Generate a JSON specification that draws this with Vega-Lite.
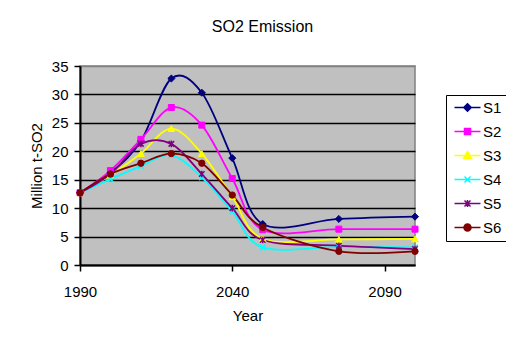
{
  "$schema": "https://vega.github.io/schema/vega-lite/v6.json",
  "width": 335,
  "height": 199,
  "autosize": {"type": "none"},
  "padding": {"left": 80, "top": 66, "right": 91, "bottom": 78},
  "background": "white",
  "title": {"text": "SO2 Emission", "fontSize": 16, "fontWeight": "normal", "font": "Liberation Sans", "color": "black", "anchor": "middle", "dx": 15, "offset": 24},
  "config": {
    "view": {"fill": "#C0C0C0", "stroke": "#808080", "strokeWidth": 1.5},
    "axis": {"labelFont": "Liberation Sans", "labelFontSize": 15, "labelColor": "black", "titleFont": "Liberation Sans", "titleFontSize": 15, "titleFontWeight": "normal", "titleColor": "black", "domainColor": "black", "domainWidth": 2, "tickColor": "black", "tickWidth": 1.5, "tickSize": 6},
    "legend": {"labelFont": "Liberation Sans", "labelFontSize": 15, "labelColor": "black"}
  },
  "data": {"values": [
    {"year": 1990, "series": "S1", "value": 12.7},
    {"year": 2000, "series": "S1", "value": 16.2},
    {"year": 2010, "series": "S1", "value": 21.8},
    {"year": 2020, "series": "S1", "value": 32.8},
    {"year": 2030, "series": "S1", "value": 30.3},
    {"year": 2040, "series": "S1", "value": 18.8},
    {"year": 2050, "series": "S1", "value": 7.2},
    {"year": 2075, "series": "S1", "value": 8.1},
    {"year": 2100, "series": "S1", "value": 8.5},
    {"year": 1990, "series": "S2", "value": 12.7},
    {"year": 2000, "series": "S2", "value": 16.6},
    {"year": 2010, "series": "S2", "value": 22.1},
    {"year": 2020, "series": "S2", "value": 27.7},
    {"year": 2030, "series": "S2", "value": 24.6},
    {"year": 2040, "series": "S2", "value": 15.2},
    {"year": 2050, "series": "S2", "value": 6.2},
    {"year": 2075, "series": "S2", "value": 6.3},
    {"year": 2100, "series": "S2", "value": 6.3},
    {"year": 1990, "series": "S3", "value": 12.7},
    {"year": 2000, "series": "S3", "value": 15.8},
    {"year": 2010, "series": "S3", "value": 19.6},
    {"year": 2020, "series": "S3", "value": 24.0},
    {"year": 2030, "series": "S3", "value": 19.6},
    {"year": 2040, "series": "S3", "value": 12.0},
    {"year": 2050, "series": "S3", "value": 4.6},
    {"year": 2075, "series": "S3", "value": 4.5},
    {"year": 2100, "series": "S3", "value": 4.6},
    {"year": 1990, "series": "S4", "value": 12.7},
    {"year": 2000, "series": "S4", "value": 15.1},
    {"year": 2010, "series": "S4", "value": 17.4},
    {"year": 2020, "series": "S4", "value": 19.3},
    {"year": 2030, "series": "S4", "value": 15.4},
    {"year": 2040, "series": "S4", "value": 9.4},
    {"year": 2050, "series": "S4", "value": 3.1},
    {"year": 2075, "series": "S4", "value": 3.2},
    {"year": 2100, "series": "S4", "value": 3.1},
    {"year": 1990, "series": "S5", "value": 12.7},
    {"year": 2000, "series": "S5", "value": 16.0},
    {"year": 2010, "series": "S5", "value": 21.3},
    {"year": 2020, "series": "S5", "value": 21.3},
    {"year": 2030, "series": "S5", "value": 16.0},
    {"year": 2040, "series": "S5", "value": 10.0},
    {"year": 2050, "series": "S5", "value": 4.4},
    {"year": 2075, "series": "S5", "value": 3.4},
    {"year": 2100, "series": "S5", "value": 2.8},
    {"year": 1990, "series": "S6", "value": 12.7},
    {"year": 2000, "series": "S6", "value": 16.0},
    {"year": 2010, "series": "S6", "value": 17.9},
    {"year": 2020, "series": "S6", "value": 19.6},
    {"year": 2030, "series": "S6", "value": 17.9},
    {"year": 2040, "series": "S6", "value": 12.3},
    {"year": 2050, "series": "S6", "value": 6.6},
    {"year": 2075, "series": "S6", "value": 2.4},
    {"year": 2100, "series": "S6", "value": 2.4}
  ]},
  "encoding": {
    "x": {"field": "year", "type": "quantitative", "scale": {"domain": [1990, 2100], "nice": false, "zero": false},
      "axis": {"title": "Year", "values": [1990, 2040, 2090], "format": "d", "grid": false, "labelFlush": false, "labelPadding": 13, "titlePadding": 9}},
    "y": {"field": "value", "type": "quantitative", "scale": {"domain": [0, 35], "nice": false},
      "axis": {"title": "Million t-SO2", "values": [0, 5, 10, 15, 20, 25, 30, 35], "grid": true, "gridColor": {"condition": {"test": "datum.value === 35", "value": "#808080"}, "value": "black"}, "gridWidth": 1.5, "gridOpacity": 1, "labelPadding": 6, "titlePadding": 7}},
    "color": {"field": "series", "type": "nominal", "scale": {"domain": ["S1", "S2", "S3", "S4", "S5", "S6"], "range": ["#000080", "#FF00FF", "#FFFF00", "#00FFFF", "#800080", "#800000"]},
      "legend": {"title": null, "orient": "none", "legendX": 366, "legendY": 29, "strokeColor": "black", "padding": 5, "rowPadding": 8, "symbolSize": 100, "labelOffset": 17,
        "encode": {"symbols": {"update": {
          "shape": {"signal": "datum.value === 'S1' ? 'M-0.8,0H4.4M1.8,-0.75L2.55,0L1.8,0.75L1.05,0Z' : datum.value === 'S2' ? 'M-0.8,0H4.4M1.2,-0.6H2.4V0.6H1.2Z' : datum.value === 'S3' ? 'M-0.8,0H4.4M1.8,-0.8L2.6,0.6H1Z' : datum.value === 'S4' ? 'M-0.8,0H4.4M1.2,-0.6L2.4,0.6M1.2,0.6L2.4,-0.6' : datum.value === 'S5' ? 'M-0.8,0H4.4M1.2,-0.6L2.4,0.6M1.2,0.6L2.4,-0.6M1.8,-0.7V0.7' : 'M-0.8,0H4.4M1.1,0A0.7,0.7 0 1,0 2.5,0A0.7,0.7 0 1,0 1.1,0Z'"},
          "strokeWidth": {"value": 1.5}
        }}}}}
  },
  "layer": [
    {"mark": {"type": "line", "interpolate": "cardinal", "tension": 0, "strokeWidth": 1.8}},
    {"transform": [{"filter": "datum.series === 'S1'"}], "mark": {"type": "point", "shape": "diamond", "filled": true, "size": 50, "stroke": "#000080", "strokeWidth": 1, "opacity": 1}},
    {"transform": [{"filter": "datum.series === 'S2'"}], "mark": {"type": "point", "shape": "square", "filled": true, "size": 36, "stroke": "#FF00FF", "strokeWidth": 1, "opacity": 1}},
    {"transform": [{"filter": "datum.series === 'S3'"}], "mark": {"type": "point", "shape": "triangle-up", "filled": true, "size": 45, "stroke": "#FFFF00", "strokeWidth": 1, "opacity": 1}},
    {"transform": [{"filter": "datum.series === 'S4'"}], "mark": {"type": "point", "shape": "M-1,-1L1,1M-1,1L1,-1", "filled": true, "size": 30, "stroke": "#00FFFF", "strokeWidth": 1.5, "opacity": 1}},
    {"transform": [{"filter": "datum.series === 'S5'"}], "mark": {"type": "point", "shape": "M-1,-1L1,1M-1,1L1,-1M0,-1.2L0,1.2", "filled": true, "size": 30, "stroke": "#800080", "strokeWidth": 1.5, "opacity": 1}},
    {"transform": [{"filter": "datum.series === 'S6'"}], "mark": {"type": "point", "shape": "circle", "filled": true, "size": 40, "stroke": "#800000", "strokeWidth": 1, "opacity": 1}}
  ]
}
